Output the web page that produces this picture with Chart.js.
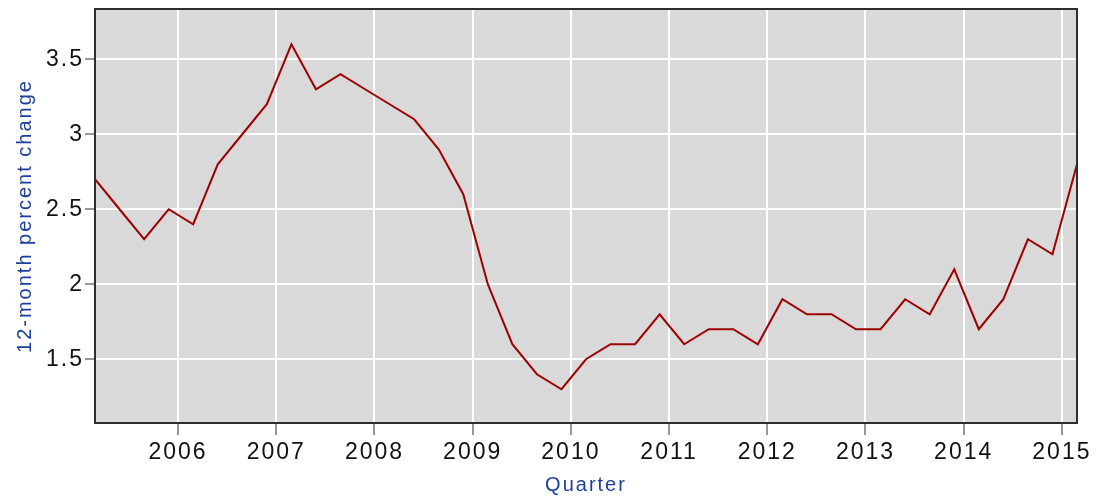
<!DOCTYPE html>
<html>
<head>
<meta charset="utf-8">
<script src="https://cdn.jsdelivr.net/npm/chart.js@4.4.1/dist/chart.umd.min.js"></script>
<style>
  html, body { margin: 0; padding: 0; background: #ffffff; }
  #wrap { width: 1098px; height: 497px; }
</style>
</head>
<body>
<div id="wrap"><canvas id="c" width="1098" height="497"></canvas></div>
<script>
// ---- data ----
const quarters = [
  '2005 Q1','2005 Q2','2005 Q3','2005 Q4',
  '2006 Q1','2006 Q2','2006 Q3','2006 Q4',
  '2007 Q1','2007 Q2','2007 Q3','2007 Q4',
  '2008 Q1','2008 Q2','2008 Q3','2008 Q4',
  '2009 Q1','2009 Q2','2009 Q3','2009 Q4',
  '2010 Q1','2010 Q2','2010 Q3','2010 Q4',
  '2011 Q1','2011 Q2','2011 Q3','2011 Q4',
  '2012 Q1','2012 Q2','2012 Q3','2012 Q4',
  '2013 Q1','2013 Q2','2013 Q3','2013 Q4',
  '2014 Q1','2014 Q2','2014 Q3','2014 Q4',
  '2015 Q1'
];
const percentChange = [
  2.7, 2.5, 2.3, 2.5,
  2.4, 2.8, 3.0, 3.2,
  3.6, 3.3, 3.4, 3.3,
  3.2, 3.1, 2.9, 2.6,
  2.0, 1.6, 1.4, 1.3,
  1.5, 1.6, 1.6, 1.8,
  1.6, 1.7, 1.7, 1.6,
  1.9, 1.8, 1.8, 1.7,
  1.7, 1.9, 1.8, 2.1,
  1.7, 1.9, 2.3, 2.2,
  2.8
];
const xTickYears = [2006, 2007, 2008, 2009, 2010, 2011, 2012, 2013, 2014, 2015];
const yTickValues = [1.5, 2, 2.5, 3, 3.5];
const yTitle = '12-month percent change';
const xTitle = 'Quarter';

// quarter label -> decimal year position on the time axis
const QUARTER_OFFSET = 0.154;
function quarterToX(label) {
  const [y, q] = label.split(' Q');
  return Number(y) + (Number(q) - 1) / 4 + QUARTER_OFFSET;
}
const points = quarters.map((q, i) => ({ x: quarterToX(q), y: percentChange[i] }));

const FONT = "'Liberation Sans', Arial, sans-serif";

const stylePlugin = {
  id: 'styleBits',
  beforeUpdate(chart) { chart.ctx.letterSpacing = '2px'; },
  beforeDraw(chart) {
    const { ctx, chartArea: a } = chart;
    ctx.letterSpacing = '2px';
    ctx.save();
    ctx.fillStyle = '#ffffff';
    ctx.fillRect(0, 0, chart.width, chart.height);
    ctx.fillStyle = '#d9d9d9';
    ctx.fillRect(a.left, a.top, a.right - a.left, a.bottom - a.top);
    ctx.restore();
  },
  afterDraw(chart) {
    const { ctx, chartArea: a } = chart;
    ctx.save();
    ctx.strokeStyle = '#2e2e2e';
    ctx.lineWidth = 2;
    ctx.strokeRect(a.left, a.top, a.right - a.left, a.bottom - a.top);
    ctx.restore();
  }
};

new Chart(document.getElementById('c'), {
  type: 'line',
  data: {
    datasets: [{
      label: yTitle,
      data: points,
      borderColor: '#9e0000',
      borderWidth: 2,
      pointRadius: 0,
      tension: 0,
      fill: false
    }]
  },
  options: {
    responsive: false,
    animation: false,
    devicePixelRatio: 1,
    layout: { padding: { top: 9, right: 21, left: 0, bottom: 0 } },
    plugins: { legend: { display: false }, tooltip: { enabled: false } },
    scales: {
      x: {
        type: 'linear',
        min: quarterToX(quarters[0]),
        max: quarterToX(quarters[quarters.length - 1]),
        afterBuildTicks: s => { s.ticks = xTickYears.map(v => ({ value: v })); },
        afterFit: s => { s.height = 74; },
        border: { display: false },
        grid: { color: '#ffffff', lineWidth: 2, drawTicks: true, tickLength: 12, tickColor: '#2e2e2e', tickWidth: 1 },
        ticks: {
          color: '#111111',
          font: { family: FONT, size: 23 },
          padding: 4,
          maxRotation: 0,
          autoSkip: false,
          callback: v => String(v)
        },
        title: {
          display: true,
          text: xTitle,
          color: '#1c3f9c',
          font: { family: FONT, size: 20 },
          padding: { top: 0, bottom: 0 }
        }
      },
      y: {
        type: 'linear',
        min: 1.075,
        max: 3.835,
        afterBuildTicks: s => { s.ticks = yTickValues.map(v => ({ value: v })); },
        afterFit: s => { s.width = 95; },
        border: { display: false },
        grid: { color: '#ffffff', lineWidth: 2, drawTicks: true, tickLength: 10, tickColor: '#2e2e2e', tickWidth: 1 },
        ticks: {
          color: '#111111',
          font: { family: FONT, size: 23, lineHeight: 0.6 },
          padding: 1,
          callback: v => String(v)
        },
        title: {
          display: true,
          text: yTitle,
          color: '#1c3f9c',
          font: { family: FONT, size: 20 },
          padding: { top: 13, bottom: 0 }
        }
      }
    }
  },
  plugins: [stylePlugin]
});
</script>
</body>
</html>
